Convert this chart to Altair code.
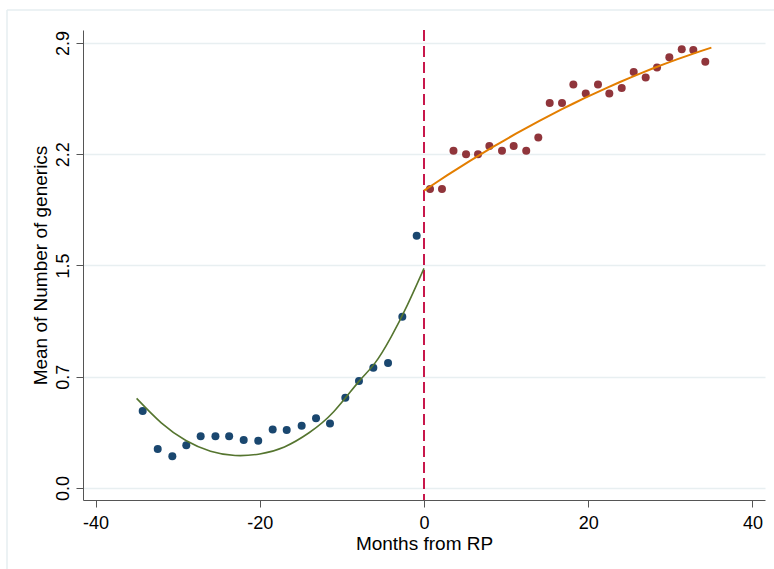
import altair as alt
import pandas as pd

# Pre-RP binned means (months before reference pricing)
pre_month = [-34.26, -32.43, -30.65, -28.95, -27.2, -25.4, -23.73, -21.96, -20.19, -18.43,
             -16.72, -14.9, -13.15, -11.45, -9.58, -7.92, -6.17, -4.38, -2.64, -0.89]
pre_mean = [0.502, 0.254, 0.207, 0.278, 0.337, 0.337, 0.337, 0.313, 0.308, 0.382,
            0.378, 0.406, 0.454, 0.421, 0.588, 0.697, 0.784, 0.814, 1.116, 1.644]

# Post-RP binned means
post_month = [0.73, 2.19, 3.59, 5.12, 6.58, 7.96, 9.5, 10.92, 12.45, 13.92, 15.31, 16.81,
              18.19, 19.7, 21.19, 22.57, 24.08, 25.54, 27.0, 28.38, 29.88, 31.39, 32.8, 34.26]
post_mean = [1.948, 1.948, 2.197, 2.175, 2.175, 2.228, 2.197, 2.228, 2.197, 2.283, 2.508, 2.508,
             2.629, 2.571, 2.629, 2.571, 2.606, 2.710, 2.674, 2.739, 2.806, 2.858, 2.853, 2.777]

# Quadratic fit before RP
pre_fit_month = [-35, -32, -29, -26, -23, -20, -17, -14, -11, -8, -6, -4, -2, 0]
pre_fit_mean = [0.584, 0.425, 0.310, 0.240, 0.212, 0.222, 0.268, 0.360, 0.497, 0.690,
                0.812, 0.985, 1.195, 1.431]

x_ticks = [-40, -20, 0, 20, 40]
y_ticks = [0, 0.725, 1.45, 2.175, 2.9]
y_tick_labels = ["0.0", "0.7", "1.5", "2.2", "2.9"]
cutoff = [0]

pre = pd.DataFrame({"month": pre_month, "mean": pre_mean})
post = pd.DataFrame({"month": post_month, "mean": post_mean})
pre_fit_df = pd.DataFrame({"month": pre_fit_month, "mean": pre_fit_mean})
cut = pd.DataFrame({"month": cutoff})

FONT = "Liberation Sans"
AXC = "#555555"

xscale = alt.Scale(domain=[-41.53, 41.53], nice=False, zero=False)
yscale = alt.Scale(domain=[-0.078, 2.984], nice=False, zero=False)

label_arr = "[" + ",".join("'%s'" % s for s in y_tick_labels) + "]"

x_enc = alt.X(
    "month:Q", scale=xscale,
    axis=alt.Axis(
        values=x_ticks, labelExpr="'' + datum.value", grid=False,
        title="Months from RP", titleFont=FONT, titleFontSize=19, titleFontWeight="normal",
        titleColor="black", titleX=341, titleY=49, titleBaseline="alphabetic", titleAlign="center",
        labelFont=FONT, labelFontSize=18, labelColor="black", labelPadding=7,
        tickSize=7, tickColor=AXC, domainColor=AXC, tickWidth=1, domainWidth=1,
    ),
)
y_enc = alt.Y(
    "mean:Q", scale=yscale,
    axis=alt.Axis(
        values=y_ticks, labelExpr=label_arr + "[round(datum.value / 0.725)]",
        grid=True, gridColor="#e8eff1", gridWidth=1.5,
        title="Mean of Number of generics", titleFont=FONT, titleFontSize=19,
        titleFontWeight="normal", titleColor="black", titleAngle=270,
        titleX=-37, titleY=235, titleBaseline="alphabetic", titleAlign="center",
        labelFont=FONT, labelFontSize=18, labelColor="black", labelAngle=270,
        labelAlign="center", labelBaseline="alphabetic", labelPadding=8,
        tickSize=7, tickColor=AXC, domainColor=AXC, tickWidth=1, domainWidth=1,
    ),
)

rule = alt.Chart(cut).mark_rule(color="#c8174b", strokeDash=[11, 5], strokeWidth=2).encode(x=x_enc)

pre_pts = alt.Chart(pre).mark_circle(size=64, color="#1a476f", opacity=1).encode(x=x_enc, y=y_enc)
post_pts = alt.Chart(post).mark_circle(size=64, color="#90353b", opacity=1).encode(x=x_enc, y=y_enc)

pre_fit = alt.Chart(pre_fit_df).mark_line(
    color="#55752f", strokeWidth=1.6, interpolate="natural"
).encode(x=x_enc, y=y_enc)

post_fit = alt.Chart(post).transform_regression(
    "month", "mean", method="poly", order=2, extent=[0, 35]
).mark_line(color="#e37e00", strokeWidth=2).encode(x=x_enc, y=y_enc)

# faint graph-region outline (top and left edges)
frame_top = alt.Chart(cut).mark_rule(color="#e6eef0", strokeWidth=1.5).encode(
    x=alt.value(-76), x2=alt.value(700), y=alt.value(-20))
frame_left = alt.Chart(cut).mark_rule(color="#e6eef0", strokeWidth=1.5).encode(
    x=alt.value(-76), y=alt.value(-20), y2=alt.value(560))

chart = alt.layer(
    frame_top, frame_left, rule, pre_pts, post_pts, pre_fit, post_fit
).properties(
    width=682, height=470,
    autosize=alt.AutoSizeParams(type="none"),
    padding={"left": 83, "top": 30, "right": 9, "bottom": 69},
    background="white",
).configure_view(stroke=None)

chart.save("out.html", embed_options={"renderer": "svg", "actions": False})
